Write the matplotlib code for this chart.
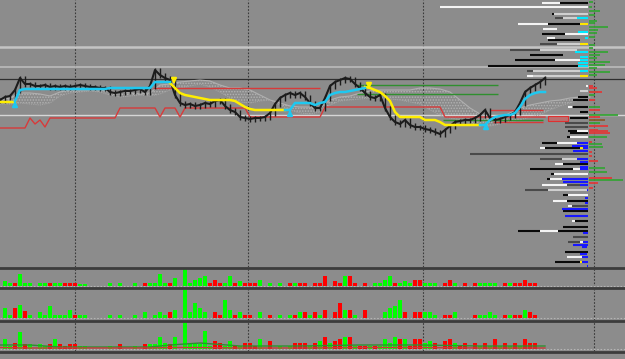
import matplotlib
matplotlib.use("Agg")
import matplotlib.pyplot as plt
import numpy as np
from matplotlib.lines import Line2D
from matplotlib.patches import Rectangle

N = np.nan
BG = "#8c8c8c"
FIG_W, FIG_H = 625, 359

# price closes, one bar every 5 minutes (x in minutes), price in points
close = [167, 170, 171, 177, 189, 183, 183, 181, 181, 182,
         180, 181, 180, 181, 180, 181, 182, 181, 180, 180,
         179, 179, 175, 174, 175, 176, 176, 177, 178, 175,
         181, 197, 192, 189, 187, 172, 164, 162, 163, 161,
         162, 164, 163, 166, 167, 161, 157, 155, 150, 149,
         148, 149, 149, 150, 154, 163, 169, 172, 174, 172,
         174, 170, 164, 159, 159, 169, 181, 185, 187, 189,
         188, 183, 179, 174, 170, 169, 172, 159, 150, 145,
         143, 147, 142, 140, 140, 138, 137, 135, 133, 137,
         141, 145, 146, 147, 147, 149, 152, 157, 149, 147,
         148, 150, 152, 155, 164, 175, 179, 182, 185, 189]

trend_down = ([165] * 4 + [N] * 30 +
              [184, 179, 174, 172, 171, 170, 169, 168, 167, 167,
               167, 167, 167, 166, 163, 160, 158] + [157] * 7 + [N] * 15 +
              [180, 179, 177, 175, 171, 166, 155, 150, 150, 150,
               150, 150, 147, 147, 147, 145] + [142] * 8 + [N] * 13)

trend_up = ([N] * 3 + [166, 177] + [178] * 17 + [179] * 9 + [185] * 4 + [N] * 22 +
            [157, 157, 164, 164, 164, 164, 162, 164, 165, 172,
             174, 175, 175, 176, 177, 178, 179] + [N] * 22 +
            [142, 142, 147, 150, 151, 152, 152, 154, 160, 168,
             172, 174, 175, 175])

support = ([139] * 6 + [149, 143, 147, 140] + [149] * 14 + [159] * 8 + [150] +
           [159] * 3 + [150] + [159] * 13 + [150] * 15 + [160] * 24 + [150] * 21)

cloud_x = list(range(0, 600, 10))
cloud_a = [167, 169, 174, 174, 173, 171, 175, 177, 177, 177,
           177, 176, 175, 174, 173, 174, 182, 183, 185, 186,
           187, 186, 182, 179, 179, 177, 172, 167, 164, 161,
           160, 160, 159, 167, 170, 171, 174, 176, 177, 177,
           177, 177, 179, 179, 178, 175, 167, 159, 153, 147,
           149, 154, 159, 162, 164, 166, 167, 169, 170, 170]
cloud_b = [163, 163, 164, 163, 162, 164, 171, 174, 175, 176,
           175, 172, 170, 171, 172, 171, 173, 177, 179, 181,
           183, 180, 175, 169, 165, 164, 166, 167, 162, 157,
           154, 153, 155, 162, 166, 167, 168, 169, 169, 168,
           167, 165, 163, 157, 152, 149, 147, 144, 142, 141,
           143, 145, 147, 150, 152, 157, 161, 164, 167, 168]

signal_up_x = [15, 290, 486]
signal_up_v = [169, 160, 147]
signal_dn_x = [174, 369]
signal_dn_v = [180, 175]

day_breaks = [75, 248, 423, 594]

# full-width levels (price, colour, width)
level_v = [220, 200, 188, 152]
level_c = ["#c4c4c4", "#bcbcbc", "#2e2e2e", "#d6d6d6"]
level_w = [1.8, 1.2, 0.9, 1.0]

# partial levels (price, start, end)
red_levels = [(179, 153, 320), (157, 490, 543), (145, 493, 543)]
green_levels = [(182, 357, 498), (173, 357, 498), (147, 443, 543)]

# volume profile on the right (price, start, end) by colour
prof_black = [(264, 560, 588), (253, 552, 554), (243, 548, 580), (233, 542, 565),
              (227, 548, 580), (212, 530, 563), (207, 515, 555), (201, 488, 578),
              (170, 578, 588), (167, 573, 588), (160, 573, 588), (155, 580, 588),
              (149, 570, 588), (134, 570, 588), (136, 568, 577), (130, 567, 570),
              (124, 542, 557), (119, 545, 580), (103, 563, 588), (98, 530, 573),
              (93, 551, 554), (88, 547, 550), (72, 563, 568), (66, 567, 588),
              (56, 563, 588), (46, 575, 588), (40, 563, 588), (36, 518, 540),
              (36, 558, 588), (15, 565, 588), (5, 555, 580)]
prof_white = [(264, 542, 560), (260, 440, 588), (243, 518, 548), (238, 543, 557),
              (233, 565, 588), (229, 547, 555), (207, 555, 580), (191, 527, 533),
              (181, 586, 588), (160, 568, 572), (136, 577, 588), (130, 570, 588),
              (124, 557, 577), (119, 540, 545), (103, 555, 563), (98, 573, 580),
              (93, 554, 588), (88, 550, 562), (82, 542, 567), (72, 568, 588),
              (66, 553, 567), (61, 568, 572), (46, 572, 575), (36, 540, 558),
              (25, 580, 583), (10, 567, 582)]
prof_light = [(253, 554, 588), (249, 563, 577), (223, 557, 580), (217, 540, 577),
              (196, 533, 580), (191, 533, 580), (176, 580, 588), (108, 562, 577),
              (77, 548, 587)]
prof_dark = [(249, 555, 563), (223, 540, 557), (217, 510, 540), (196, 527, 533),
             (144, 565, 588), (140, 565, 588), (113, 470, 588), (108, 540, 562),
             (82, 567, 580), (77, 525, 548), (61, 572, 588), (30, 573, 588),
             (25, 568, 580)]
prof_cyan = [(249, 577, 588), (235, 578, 588), (229, 585, 588), (215, 575, 588),
             (210, 580, 588), (207, 580, 588), (204, 578, 588), (201, 578, 588),
             (196, 580, 588)]
prof_yellow = [(243, 580, 588), (223, 580, 588), (191, 580, 588), (119, 580, 583),
               (5, 580, 582)]
prof_blue = [(124, 577, 588), (121, 572, 588), (119, 583, 588), (116, 573, 588),
             (108, 577, 588), (105, 580, 588), (100, 580, 588), (98, 580, 588),
             (88, 562, 588), (85, 563, 588), (82, 580, 588), (77, 587, 588),
             (69, 585, 588), (64, 585, 588), (58, 562, 588), (51, 565, 588),
             (34, 583, 588), (25, 583, 588), (22, 573, 588), (20, 582, 587),
             (13, 580, 587), (10, 582, 588), (5, 582, 588), (1, 587, 588)]

# delta bars right of the profile (price, end)
delta_green = [(265, 593), (260, 592), (256, 600), (252, 595), (246, 597), (244, 595),
               (240, 608), (237, 598), (234, 597), (230, 595), (222, 595), (219, 593),
               (215, 608), (212, 600), (209, 597), (205, 610), (202, 605), (199, 597),
               (195, 610), (192, 597), (175, 598), (172, 595), (160, 600), (152, 618),
               (144, 600), (130, 607), (123, 602), (120, 603), (99, 605), (95, 607),
               (87, 623)]
delta_red = [(181, 593), (179, 597), (175, 602), (167, 595), (157, 600), (150, 600),
             (141, 608), (137, 598), (134, 610), (136, 608), (125, 592), (115, 592),
             (111, 592), (106, 598), (89, 612), (84, 598), (79, 593)]
delta_brown = [(147, 605)]

# volume panels: positive = up volume (green), negative = down volume (red)
vol_1 = [0, 5, 3, -3, 12, 3, 3, 0, 3, 3, -3, 3, 3, -3, -3, -3, 2, 2, 0, 0,
         0, 0, 3, 0, 3, 0, 0, 3, 0, -3, 3, 3, 12, 3, -3, 8, 0, 18, 3, 6,
         8, 10, -3, -6, -3, 3, 10, -3, 5, -3, -3, -3, 6, 0, 3, 0, 3, 0, -3, 3,
         -3, -3, 0, -3, -3, -10, 0, -5, -3, 10, -10, -3, 0, -3, 0, 3, 3, 6, 10, -3,
         3, 5, 3, -6, -6, 3, 3, 3, 0, -3, -6, 3, 0, -3, 0, -3, 3, 3, 3, 3,
         0, -3, 3, -3, -3, -6, -3, -3, 0, 0]
vol_2 = [0, 10, 3, -10, 13, -7, 3, 0, 6, 3, 12, 3, 3, 3, 8, -3, 3, 3, 0, 0,
         0, 0, 3, 0, 3, 0, 0, 3, 0, 6, 0, 3, 6, 3, -6, 8, 0, 28, 6, 15,
         10, 6, 0, -6, -3, 18, 8, -3, 6, -3, -3, 0, 6, 0, -3, 0, 3, 0, 3, -3,
         6, -6, 3, -6, 3, -8, 0, -6, -15, 8, -8, 3, 0, -8, 0, 0, 0, 6, 10, 12,
         18, -6, 0, -6, -6, 6, 6, 3, 0, -3, -3, 6, 0, 0, 0, -3, 3, 3, 6, 3,
         0, -3, 3, -3, -3, 8, -6, -3, 0, 0]
vol_3 = [0, 10, 3, -6, 17, -5, 5, 0, 5, 3, -5, 10, -5, -3, -5, -5, 3, 3, 0, 0,
         0, 0, 3, 0, -5, 0, 0, 3, 0, -5, 5, 5, 12, 6, -5, 12, 0, 30, 6, 5,
         5, 18, 3, -8, -6, 3, 8, -3, 3, -6, -6, -3, 10, 0, -8, 0, 3, 0, 3, -6,
         -6, -6, 3, -6, 8, -12, 6, -8, -10, 12, -12, 3, -3, -3, 3, -3, 3, 10, 6, 12,
         -10, 10, -3, -10, -10, 6, 8, -6, 0, -8, -10, 6, -3, -6, 0, -6, 3, -6, 3, -10,
         3, -6, 3, -6, 3, -10, -6, -6, 0, 0]
vol_ma_x = [0, 30, 60, 150, 170, 200, 240, 300, 360, 420, 480, 545]
vol_ma_fast = [4, 4, 2, 2, 4, 6, 3, 3, 4, 4, 3, 3]
vol_ma_slow = [1.5, 1, 1, 1, 1.5, 1.5, 1, 1, 1.5, 1.5, 1, 1]


def px_axes(fig, top, bottom):
    return fig.add_axes([0, 1 - bottom / FIG_H, 1, (bottom - top) / FIG_H])


def clean(ax):
    ax.set_facecolor(BG)
    ax.set_xlim(0, FIG_W)
    ax.set_xticks([])
    ax.set_yticks([])
    for s in ax.spines.values():
        s.set_visible(False)
    for x in day_breaks:
        ax.axvline(x, color="#3a3a3a", lw=0.8, ls=(0, (1.5, 1.5)), zorder=1)


def draw_profile(ax, segs, color, lw=1.5):
    for v, x0, x1 in segs:
        ax.hlines(v, x0, x1, color=color, lw=lw, zorder=4)


plt.rcParams["hatch.linewidth"] = 0.7
fig = plt.figure(figsize=(FIG_W / 100, FIG_H / 100), dpi=100, facecolor=BG)

# main price panel
ax = px_axes(fig, 0, 267)
clean(ax)
ax.set_ylim(0, 267)

for v, c, w in zip(level_v, level_c, level_w):
    ax.axhline(v, color=c, lw=w, zorder=2)

ax.fill_between(cloud_x, cloud_a, cloud_b, facecolor="none", edgecolor="#b2b2b2",
                hatch="......", lw=0, zorder=2)
ax.plot(cloud_x, cloud_a, color="#b0b0b0", lw=0.8, zorder=2)
ax.plot(cloud_x, cloud_b, color="#a4a4a4", lw=0.8, ls=(0, (1, 1)), zorder=2)

for v, x0, x1 in red_levels:
    ax.hlines(v, x0, x1, color="#d83a3a", lw=1.0, zorder=3)
for v, x0, x1 in green_levels:
    ax.hlines(v, x0, x1, color="#2f8f2f", lw=1.0, zorder=3)

bar_x = np.arange(len(close)) * 5
c = np.array(close, dtype=float)
prev = np.concatenate([[c[0]], c[:-1]])
ax.vlines(bar_x, np.minimum(prev, c) - 2.5, np.maximum(prev, c) + 2.5, color="#1c1c1c", lw=1.0, zorder=5)
ax.plot(bar_x, c, color="#1c1c1c", lw=1.5, zorder=5)

ax.plot(bar_x, support, color="#d83a3a", lw=1.0, zorder=3)
ax.plot(bar_x, trend_down, color="#ffee00", lw=1.8, zorder=6)
ax.plot(bar_x, trend_up, color="#1ec8f0", lw=1.8, zorder=6)

for x, v in zip(signal_up_x, signal_up_v):
    ax.annotate("", xy=(x, v), xytext=(x, v - 9),
                arrowprops=dict(arrowstyle="-|>", color="#1ec8f0", lw=1.6, mutation_scale=7), zorder=7)
for x, v in zip(signal_dn_x, signal_dn_v):
    ax.annotate("", xy=(x, v), xytext=(x, v + 9),
                arrowprops=dict(arrowstyle="-|>", color="#ffee00", lw=1.6, mutation_scale=7), zorder=7)

ax.add_patch(Rectangle((548, 146), 20, 5, facecolor="#b87070", edgecolor="#e03030", lw=0.8, zorder=6))

draw_profile(ax, prof_dark, "#4a4a4a")
draw_profile(ax, prof_light, "#cfcfcf")
draw_profile(ax, prof_black, "#0a0a0a")
draw_profile(ax, prof_white, "#f4f4f4")
draw_profile(ax, prof_cyan, "#00e8ff")
draw_profile(ax, prof_yellow, "#ffe600")
draw_profile(ax, prof_blue, "#1818ff")
for v, x1 in delta_green:
    ax.hlines(v, 589, x1, color="#37a337", lw=1.3, zorder=4)
for v, x1 in delta_red:
    ax.hlines(v, 589, x1, color="#e03a3a", lw=1.3, zorder=4)
for v, x1 in delta_brown:
    ax.hlines(v, 589, x1, color="#8a5a2a", lw=1.3, zorder=4)

# volume panels
panels = [(269, 287, vol_1, (-1, 17)), (289, 320, vol_2, (-2, 29)), (322, 351, vol_3, (-2, 27))]
vol_axes = []
for top, bottom, vol, lim in panels:
    pax = px_axes(fig, top, bottom)
    clean(pax)
    pax.set_ylim(*lim)
    vol = np.array(vol, dtype=float)
    cols = np.where(vol >= 0, "#00ff00", "#ff0000")
    pax.bar(bar_x, np.abs(vol), width=3.2, color=cols, lw=0, zorder=3)
    pax.axhline(0, color="#b4b4b4", lw=0.8, ls=(0, (1.5, 1.5)), zorder=2)
    vol_axes.append(pax)

vol_axes[2].plot(vol_ma_x, vol_ma_fast, color="#2f8f2f", lw=1.0, zorder=4)
vol_axes[2].plot(vol_ma_x, vol_ma_slow, color="#c83a3a", lw=1.0, zorder=4)

# panel separators
for y in [268, 288, 321, 352]:
    fig.add_artist(Line2D([0, 1], [1 - y / FIG_H] * 2, transform=fig.transFigure,
                          color="#3c3c3c", lw=2.0))

fig.savefig("out.png", dpi=100, facecolor=BG)
